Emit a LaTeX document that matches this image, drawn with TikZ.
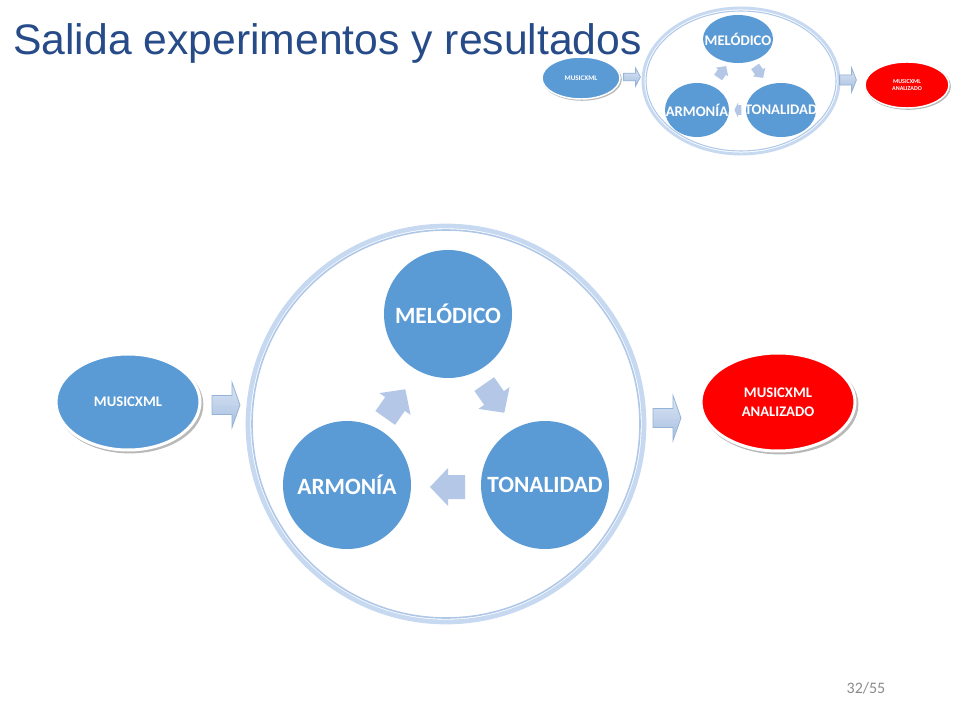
\documentclass[tikz,border=0pt]{standalone}
\usepackage{fontspec}
\setmainfont{Liberation Sans}
\newfontfamily\calfont{Carlito}[BoldFont={Carlito Bold}]
\usetikzlibrary{shapes.geometric,shadows}
\definecolor{nodeblue}{HTML}{5B9BD5}
\definecolor{titleblue}{HTML}{264B88}
\definecolor{cycarrow}{HTML}{B4C7E7}
\definecolor{ringA}{HTML}{C6D9F1}
\definecolor{ringB}{HTML}{B0C8E8}
\definecolor{barrowtop}{HTML}{DCE6F4}
\definecolor{barrowbot}{HTML}{A5BEE0}
\definecolor{barrowedge}{HTML}{95B3D7}
\definecolor{pagegray}{HTML}{8C8C8C}
\definecolor{redfill}{HTML}{FF0000}
\tikzset{
  circ/.style={circle, fill=nodeblue, text=white, font=\calfont\bfseries\fontsize{17.5}{20}\selectfont, inner sep=0pt, minimum size=96pt},
  smallcirc/.style={ellipse, fill=nodeblue, inner sep=0pt},
  smalltext/.style={text=white, font=\calfont\bfseries\fontsize{11}{13}\selectfont, inner sep=0pt},
  ell/.style={ellipse, fill=#1, draw=white, line width=2.25pt, text=white, align=center, inner sep=0pt,
    drop shadow={shadow xshift=1.4pt, shadow yshift=-1.8pt, shadow scale=1.02, fill=black!50, opacity=0.55}},
  smallell/.style={ellipse, fill=#1, draw=white, line width=1.1pt, text=white, align=center, inner sep=0pt,
    drop shadow={shadow xshift=0.8pt, shadow yshift=-1pt, shadow scale=1.02, fill=black!50, opacity=0.55}},
  ringouter/.style={draw=ringA, line width=3.5pt, inner sep=0pt},
  ringinner/.style={draw=ringB, line width=1.2pt},
  barrow/.pic={\draw[barrowedge, line width=0.6pt, top color=barrowtop, bottom color=barrowbot]
     (-14,-9.5) -- (6,-9.5) -- (6,-22.5) -- (14,0) -- (6,22.5) -- (6,9.5) -- (-14,9.5) -- cycle;},
  cyc/.pic={\fill[cycarrow] (-17,-12) -- (0,-12) -- (0,-19) -- (18,0) -- (0,19) -- (0,12) -- (-17,12) -- cycle;}
}
\begin{document}
\begin{tikzpicture}[x=0.75pt, y=-0.75pt]
\useasboundingbox (0,0) rectangle (960,720);
\fill[white] (0,0) rectangle (960,720);

% title
\node[anchor=base west, inner sep=0pt, font=\fontsize{32}{38}\selectfont, text=titleblue] (title) at (13,55) {Salida experimentos y resultados};

% ===== large diagram =====
\node[ell=nodeblue, minimum width=108pt, minimum height=72pt, font=\calfont\bfseries\fontsize{11}{13}\selectfont] (musL) at (128,402) {MUSICXML};
\pic (arrL) at (226,405) {barrow};
\node[circle, ringouter, minimum size=297pt] (ring) at (446,424) {};
\draw[ringinner] (ring.center) circle[radius=194];
\node[circ] (mel) at (448,314) {MELÓDICO};
\node[circ] (arm) at (347,485) {ARMONÍA};
\node[circ] (ton) at (545,485) {TONALIDAD};
\pic[rotate=55] (cNE) at (395,404) {cyc};
\pic[rotate=-55] (cSE) at (494,398) {cyc};
\pic[rotate=180] (cL) at (448,487) {cyc};
\pic (arrR) at (667,418) {barrow};
\node[ell=redfill, minimum width=115.5pt, minimum height=73.5pt, font=\calfont\bfseries\fontsize{11}{14}\selectfont] (redL) at (778,402) {MUSICXML\\ANALIZADO};

% ===== small diagram =====
\node[smallell=nodeblue, minimum width=58.5pt, minimum height=31.5pt, font=\calfont\bfseries\fontsize{5.3}{6}\selectfont] (musS) at (581,78) {MUSICXML};
\pic[xscale=0.6, yscale=0.4] (arrS1) at (632,77) {barrow};
\node[ellipse, ringouter, line width=2.2pt, minimum width=147pt, minimum height=109.5pt] (ringS) at (741,81) {};
\draw[ringinner, line width=0.8pt] (ringS.center) ellipse[x radius=95, y radius=70];
\node[smallcirc, minimum width=52.5pt, minimum height=36pt, label={[smalltext]center:MELÓDICO}] (melS) at (738,39) {};
\node[smallcirc, minimum width=48pt, minimum height=40.5pt, label={[smalltext]center:ARMONÍA}] (armS) at (697,110) {};
\node[smallcirc, minimum width=52.5pt, minimum height=40.5pt, label={[smalltext]center:TONALIDAD}] (tonS) at (781,110) {};
\pic[rotate=55, scale=0.4] (cNES) at (722,72) {cyc};
\pic[rotate=-55, scale=0.4] (cSES) at (759,72) {cyc};
\pic[rotate=180, xscale=0.2, yscale=0.4] (cLS) at (738,110) {cyc};
\pic[xscale=0.6, yscale=0.53] (arrS2) at (848,80) {barrow};
\node[smallell=redfill, minimum width=63pt, minimum height=34.5pt, font=\calfont\bfseries\fontsize{4.5}{5.3}\selectfont] (redS) at (907,85) {MUSICXML\\ANALIZADO};

% page number
\node[font=\calfont\fontsize{12}{14}\selectfont, text=pagegray, inner sep=0pt] (pg) at (866,688) {32/55};
\end{tikzpicture}
\end{document}
